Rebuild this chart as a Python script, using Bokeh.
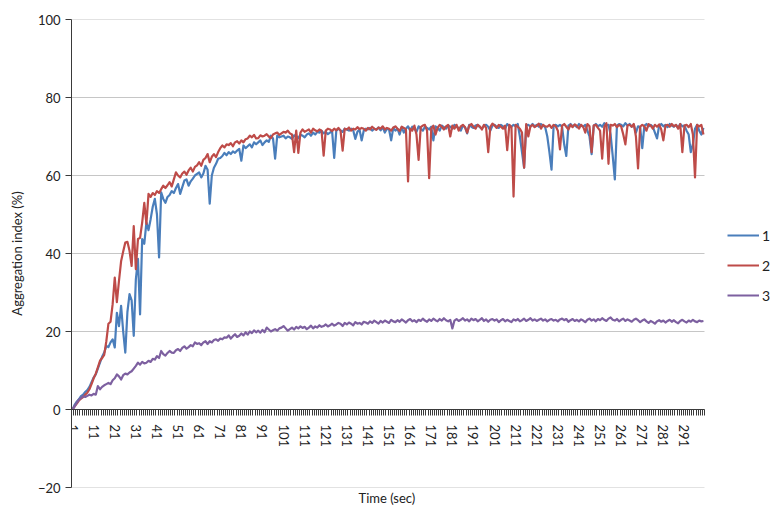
from bokeh.plotting import figure
from bokeh.models import (FixedTicker, Legend, LegendItem, Title, Range1d,
                          ColumnDataSource)
from bokeh.embed import file_html
from bokeh.resources import INLINE

# ---------------- data ----------------
time_sec = list(range(1, 301))
x_tick_labels = [str(t) for t in range(1, 300, 10)]
y_ticks = [-20, 0, 20, 40, 60, 80, 100]
series_names = ["1", "2", "3"]

series1 = [
    0, 1.2, 2.0, 2.6, 3.4, 3.8, 4.5, 5.0, 5.8, 7.0,
    8.2, 9.0, 10.5, 12.0, 13.5, 14.6, 16.3, 16.0, 17.2, 18.0,
    15.9, 24.8, 21.4, 26.6, 20.0, 14.6, 25.0, 29.6, 28.0, 18.9,
    33.4, 38.6, 24.4, 43.7, 42.5, 48.0, 46.0, 48.8, 52.0, 54.0,
    50.0, 39.0, 55.7, 54.0, 53.0, 54.5, 55.0, 56.0, 55.5, 56.8,
    57.8, 55.3, 57.0, 58.7, 59.0, 57.4, 58.5, 59.2, 60.0, 60.4,
    60.8, 59.5, 60.5, 62.5, 61.5, 52.8, 60.0, 62.0, 63.0, 64.3,
    64.5, 65.0, 65.8, 65.2, 66.0, 65.5, 66.2, 65.8, 66.4, 66.8,
    63.8, 67.7, 67.0, 67.5, 68.0, 67.2, 68.5, 68.0, 68.5, 69.0,
    67.8, 68.5, 69.0, 68.6, 70.2, 69.5, 64.3, 70.2, 69.8, 70.0,
    70.2, 69.5, 70.0, 69.8, 69.4, 70.3, 70.0, 69.6, 70.5, 70.2,
    69.8, 70.5, 70.8, 70.2, 71.0, 70.5, 71.2, 71.0, 71.5, 70.8,
    71.2, 70.6, 71.0, 71.4, 64.5, 71.5, 72.0, 71.6, 71.2, 72.0,
    71.8, 71.5, 72.0, 71.6, 69.4, 71.2, 71.8, 69.0, 71.5, 72.0,
    71.8, 72.2, 71.5, 72.0, 71.8, 72.3, 71.6, 72.4, 71.0, 72.0,
    71.8, 69.0, 72.2, 71.5, 72.0, 70.5, 72.4, 71.0, 72.0, 72.6,
    71.5, 72.5, 72.0, 71.2, 72.6, 72.0, 71.5, 72.5, 72.2, 71.8,
    72.5, 69.0, 72.6, 72.2, 71.5, 72.8, 72.4, 72.0, 72.8, 72.5,
    72.0, 73.0, 72.5, 72.2, 71.5, 72.8, 72.4, 70.8, 73.0, 72.5,
    72.2, 72.8, 73.0, 72.4, 72.0, 72.8, 73.0, 72.5, 71.5, 72.8,
    73.0, 72.5, 72.2, 73.0, 72.6, 72.0, 73.2, 72.8, 72.5, 73.0,
    72.6, 73.2, 70.0, 66.0, 62.0, 72.8, 73.0, 72.5, 73.2, 72.6,
    73.0, 72.5, 73.2, 72.8, 72.4, 70.0, 66.0, 61.5, 72.8, 73.0,
    72.6, 73.0, 72.5, 68.0, 65.0, 72.8, 73.2, 72.6, 73.0, 72.4,
    73.2, 72.8, 72.5, 73.0, 71.5, 70.0, 65.5, 72.8, 73.2, 72.6,
    73.0, 72.5, 73.4, 72.8, 73.0, 70.5, 65.0, 59.0, 72.8, 73.2,
    73.0, 72.6, 73.4, 72.8, 73.2, 72.5, 73.0, 71.0, 72.6, 72.4,
    67.0, 72.8, 73.2, 72.6, 73.0, 72.5, 71.0, 69.5, 72.8, 73.2,
    72.6, 73.0, 72.4, 73.2, 72.8, 72.5, 73.0, 72.2, 73.2, 72.6,
    72.8, 71.5, 70.5, 66.0, 68.0, 72.0, 73.0, 71.5, 70.5, 72.2,
]

series2 = [
    0, 0.8, 1.5, 2.3, 2.8, 3.2, 3.8, 4.3, 5.2, 6.5,
    8.0, 9.2, 10.8, 12.5, 13.2, 14.0, 17.5, 22.0, 22.5, 27.0,
    33.8, 27.5, 33.0, 38.0, 40.5, 42.8, 43.0, 40.7, 36.8, 47.0,
    36.0, 43.7, 44.0, 48.0, 53.0, 47.6, 55.3, 54.5, 55.5, 55.0,
    56.0, 55.5, 56.5, 57.4, 56.8, 57.5, 58.3, 57.2, 59.0, 60.8,
    60.0, 59.5, 60.5, 61.0, 60.2, 61.3, 62.0, 61.0, 62.2, 62.6,
    63.4, 62.5, 64.0, 64.5, 65.5, 63.4, 64.8, 65.5, 64.7, 66.0,
    67.0, 67.7, 67.2, 68.0, 67.8, 68.3, 67.5, 68.5, 68.8, 68.2,
    69.0, 68.5, 69.3, 69.5, 70.2, 69.8, 70.4, 69.5, 69.6, 70.3,
    70.0, 70.2, 70.6, 70.0, 69.6, 70.5, 70.8, 71.0, 70.4, 70.8,
    71.2, 71.0, 71.5, 70.8, 70.5, 66.0, 71.5, 65.8, 71.0, 71.8,
    71.2, 71.5, 71.8, 71.0, 72.0, 71.6, 71.3, 71.8, 71.5, 65.1,
    71.5, 72.0, 71.8, 71.4, 72.0, 71.6, 72.2, 71.5, 66.4, 72.0,
    71.8, 72.3, 71.5, 72.0, 71.8, 72.4, 71.9, 72.2, 72.0, 71.5,
    72.2, 71.8, 72.5, 72.0, 71.7, 72.3, 72.0, 72.6, 71.8, 72.2,
    72.0, 71.5, 72.3, 72.6, 72.0, 71.4, 72.5, 72.2, 71.8, 58.5,
    72.0, 71.5, 72.8, 70.5, 64.0, 72.4, 72.8, 73.0, 71.5, 59.3,
    72.0, 72.8, 70.5, 72.2, 73.0, 72.5, 71.8, 72.6, 73.0, 70.0,
    72.8, 72.0, 73.0, 71.5, 72.6, 73.0, 72.4, 71.0, 72.8, 73.2,
    72.5, 72.0, 73.0, 72.6, 71.8, 73.0, 72.2, 66.0, 72.5, 73.3,
    72.8, 72.2, 73.0, 72.5, 72.0, 72.8, 66.5, 73.0, 72.4, 54.6,
    73.0, 72.5, 72.0, 71.0, 62.0, 73.2, 70.0, 72.6, 73.0, 72.4,
    72.8, 73.3, 72.0, 73.0, 72.6, 72.5, 73.0, 72.2, 73.0, 72.6,
    71.5, 66.7, 72.8, 73.2, 72.5, 71.8, 73.0, 72.4, 73.1, 72.7,
    72.0, 73.0, 72.5, 71.0, 73.2, 72.6, 66.0, 72.8, 73.0, 72.2,
    71.5, 64.3, 72.5, 73.4, 63.0, 73.0, 72.8, 73.2, 72.4, 73.0,
    72.6, 70.5, 68.0, 72.8, 73.0, 72.5, 73.2, 70.0, 61.8, 72.5,
    73.0, 72.6, 71.5, 73.2, 72.8, 72.0, 73.0, 72.5, 73.1, 71.8,
    69.0, 72.8, 73.0, 72.5, 73.2, 72.6, 73.0, 72.0, 73.2, 66.0,
    72.8, 73.0, 72.4, 73.2, 70.5, 59.5, 73.0, 72.6, 73.0, 70.5,
]

series3 = [
    0, 0.8, 1.8, 2.5, 3.0, 3.4, 3.2, 3.5, 3.8, 3.6,
    4.0, 3.8, 6.0, 5.2, 5.8, 6.2, 6.5, 6.8, 6.5, 7.5,
    8.0, 9.0, 8.5, 7.7, 8.8, 9.2, 9.0, 9.5, 9.8, 10.5,
    11.2, 12.0, 11.5, 12.2, 11.8, 12.0, 12.5, 12.2, 13.0, 12.8,
    13.7, 13.2, 15.0, 14.2, 13.8, 14.5, 15.0, 14.6, 14.5, 15.2,
    15.5, 15.0, 15.8, 16.2, 15.6, 16.0, 16.5, 16.2, 17.2, 16.8,
    17.0, 16.5, 17.2, 17.5, 16.8, 17.5, 17.2, 17.8, 18.0, 17.6,
    18.2, 18.0, 18.5, 18.4, 19.0, 18.2, 18.8, 19.3, 18.6, 18.9,
    19.5, 19.0, 19.8, 19.2, 20.0, 19.6, 20.3, 19.8, 20.2, 19.7,
    20.4, 19.8, 21.0, 20.5, 20.0, 20.3, 20.6, 20.2, 20.8, 21.0,
    21.4, 20.8, 20.2, 20.6, 21.0, 20.5, 21.2, 20.8, 21.3, 20.9,
    21.2, 20.6, 21.0, 21.5, 20.8, 21.3, 21.0, 21.6, 21.2, 21.4,
    21.8, 21.3, 21.6, 22.0, 21.5, 21.8, 22.2, 22.0, 21.4, 22.2,
    21.8, 22.3, 22.0, 21.6, 22.4, 22.0, 22.2, 21.8, 22.5, 22.3,
    22.0, 22.6, 22.2, 22.8, 22.4, 22.0, 22.7, 22.3, 22.8, 22.5,
    22.2, 23.0, 22.6, 22.4, 22.9, 22.5, 23.1, 22.7, 22.3, 22.9,
    23.2, 22.6, 22.9, 22.4, 23.0, 22.7, 23.3, 22.8, 22.5, 23.1,
    22.7, 23.3, 22.9, 22.6, 23.2, 22.8, 23.4, 22.9, 22.6, 23.0,
    20.8, 22.8, 23.2, 22.7, 23.0, 23.4, 22.8, 23.1, 22.6, 23.3,
    22.9, 23.2, 22.6, 23.0, 23.4, 22.7, 23.1, 22.5, 23.0, 23.2,
    22.8, 23.1, 22.4, 22.9, 23.2, 22.6, 23.0, 22.7, 22.4, 23.1,
    22.8, 23.2, 22.6, 22.9, 23.3, 22.7, 23.0, 23.4, 22.8, 23.1,
    22.7, 23.0, 23.3, 22.8, 23.1, 22.6, 23.0, 23.2, 22.8, 23.0,
    22.6, 23.1, 23.3, 22.9, 23.2, 22.5, 22.9, 23.2, 22.7, 23.0,
    22.6, 23.1, 22.8, 22.4, 23.0, 23.3, 22.8, 23.1, 22.6, 23.2,
    22.9, 23.4, 23.0, 22.7, 23.3, 23.6, 23.0, 22.8, 23.2, 22.6,
    23.0, 23.3, 22.7, 23.1, 22.8, 22.5, 23.0, 23.3, 22.9, 22.4,
    22.8, 23.1, 22.6, 22.2, 22.7, 22.4, 22.0, 22.6, 22.9, 22.5,
    22.8, 22.3, 22.7, 23.0, 22.5, 22.9, 22.4, 22.1, 22.7, 23.0,
    22.6, 22.3, 22.8, 22.5, 23.0, 22.6, 22.4, 22.8, 22.6, 22.7,
]

colors = ["#4A7EBB", "#BE4B48", "#7D60A0"]
FONT = "Lato"

# ---------------- figure ----------------
# the frame reaches the right edge so the legend (right of the plotted
# categories) stays inside it; 300 categories occupy 633 px of the 700 px frame
n = len(time_sec)
x_end = 0.5 + n * 700.0 / 633.0
p = figure(width=771, height=508, output_backend="svg", toolbar_location=None,
           x_range=Range1d(0.5, x_end), y_range=Range1d(-20, 100),
           min_border_left=71, min_border_right=0, min_border_top=19,
           min_border_bottom=21)
p.outline_line_color = None
p.background_fill_color = "white"
p.border_fill_color = "white"

# horizontal gridlines limited to the category span
p.xgrid.visible = False
p.ygrid.visible = False
p.segment(x0=[0.5] * len(y_ticks), x1=[n + 0.5] * len(y_ticks),
          y0=y_ticks, y1=y_ticks, line_color="#C6C6C6", line_width=1)

src = ColumnDataSource(dict(t=time_sec, s1=series1, s2=series2, s3=series3))
renderers = []
for col, c in zip(["s1", "s2", "s3"], colors):
    r = p.line("t", col, source=src, line_color=c, line_width=2.2,
               line_join="round")
    renderers.append(r)

# y axis
ya = p.yaxis[0]
ya.ticker = FixedTicker(ticks=y_ticks, minor_ticks=[])
ya.axis_line_color = "#3A3A3A"
ya.major_tick_line_color = "#3A3A3A"
ya.major_tick_out = 6
ya.major_tick_in = 0
ya.major_label_text_font = FONT
ya.major_label_text_font_size = "13px"
ya.major_label_text_color = "#222222"
ya.major_label_standoff = 5
ya.axis_label = "Aggregation index (%)"
ya.axis_label_text_font = FONT
ya.axis_label_text_font_size = "13px"
ya.axis_label_text_font_style = "normal"
ya.axis_label_text_color = "#222222"
ya.axis_label_standoff = 10

# x axis crossing at y = 0, limited to the category span
xa = p.xaxis[0]
xa.fixed_location = 0
xa.bounds = (0.5, n + 0.5)
tick_pos = [int(s) for s in x_tick_labels]
xa.ticker = FixedTicker(ticks=tick_pos,
                        minor_ticks=[i + 0.5 for i in range(0, n + 1)])
xa.major_label_overrides = {pos: lab for pos, lab in zip(tick_pos, x_tick_labels)}
xa.axis_line_color = "#3A3A3A"
xa.major_tick_out = 0
xa.major_tick_in = 0
xa.minor_tick_out = 6
xa.minor_tick_in = 0
xa.minor_tick_line_color = "#3A3A3A"
xa.major_label_orientation = "vertical"
xa.major_label_standoff = 9
xa.major_label_text_font = FONT
xa.major_label_text_font_size = "13px"
xa.major_label_text_color = "#222222"

p.add_layout(Title(text="Time (sec)", align="left", text_font=FONT,
                   text_font_size="13px", text_font_style="normal",
                   text_color="#222222", standoff=0, offset=287), "below")

legend = Legend(items=[LegendItem(label=nm, renderers=[r])
                       for nm, r in zip(series_names, renderers)],
                location=(656, 182), orientation="vertical",
                glyph_width=32, glyph_height=20, label_height=20,
                spacing=10, padding=0, margin=0, label_standoff=3,
                label_text_font=FONT, label_text_font_size="14px",
                label_text_color="#222222",
                border_line_color=None, background_fill_alpha=0)
p.add_layout(legend)

open("out.html", "w").write(file_html(p, INLINE))
